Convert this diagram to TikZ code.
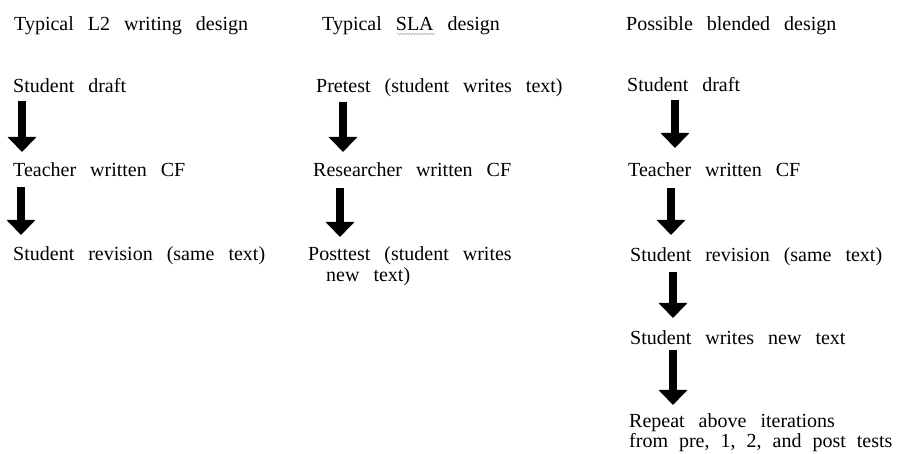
\documentclass[tikz,border=0pt]{standalone}
\usepackage{fontspec}
\setmainfont[WordSpace=2.8]{Liberation Serif}
\usetikzlibrary{arrows.meta,decorations.pathmorphing}
\begin{document}
\begin{tikzpicture}[x=1pt,y=-1pt,
  lbl/.style={anchor=base west,inner sep=0pt,font=\fontsize{20}{18}\selectfont,align=left},
  bigarrow/.style={line width=8pt,-{Triangle[length=15pt,width=28pt]}}]
\useasboundingbox[fill=white] (0,0) rectangle (903,454);
% column 1
\node[lbl] (h1) at (14,31) {Typical L2 writing design};
\node[lbl] (a1) at (13,93) {Student draft};
\node[lbl] (a2) at (13,177) {Teacher written CF};
\node[lbl] (a3) at (13,261) {Student revision (same text)};
% column 2
\node[lbl] (h2) at (322,31) {Typical SLA design};
\node[lbl] (b1) at (316,93) {Pretest (student writes text)};
\node[lbl] (b2) at (313,177) {Researcher written CF};
\node[lbl,font=\fontsize{20}{21}\selectfont] (b3) at (308,282) {Posttest (student writes\\\hspace*{18pt}new text)};
% column 3
\node[lbl] (h3) at (626,31) {Possible blended design};
\node[lbl] (c1) at (627,92) {Student draft};
\node[lbl] (c2) at (628,177) {Teacher written CF};
\node[lbl] (c3) at (630,262) {Student revision (same text)};
\node[lbl] (c4) at (630,345) {Student writes new text};
\node[lbl] (c5) at (629,447) {Repeat above iterations\\{\spaceskip=11pt from pre, 1, 2, and post tests}};
% spell-check squiggle
\coordinate (sq1) at (397,34);
\coordinate (sq2) at (435,34);
\draw[gray!60,line width=0.6pt,decorate,decoration={snake,amplitude=0.8pt,segment length=3pt}] (sq1) -- (sq2);
% arrow end points
\coordinate (p1s) at (22,101);  \coordinate (p1e) at (22,152);
\coordinate (p2s) at (21,187);  \coordinate (p2e) at (21,235);
\coordinate (q1s) at (343,102); \coordinate (q1e) at (343,152);
\coordinate (q2s) at (340,188); \coordinate (q2e) at (340,237);
\coordinate (r1s) at (675,100); \coordinate (r1e) at (675,148);
\coordinate (r2s) at (671,188); \coordinate (r2e) at (671,235);
\coordinate (r3s) at (673,272); \coordinate (r3e) at (673,318);
\coordinate (r4s) at (673,350); \coordinate (r4e) at (673,405);
\draw[bigarrow] (p1s) -- (p1e);
\draw[bigarrow] (p2s) -- (p2e);
\draw[bigarrow] (q1s) -- (q1e);
\draw[bigarrow] (q2s) -- (q2e);
\draw[bigarrow] (r1s) -- (r1e);
\draw[bigarrow] (r2s) -- (r2e);
\draw[bigarrow] (r3s) -- (r3e);
\draw[bigarrow] (r4s) -- (r4e);
\end{tikzpicture}
\end{document}
